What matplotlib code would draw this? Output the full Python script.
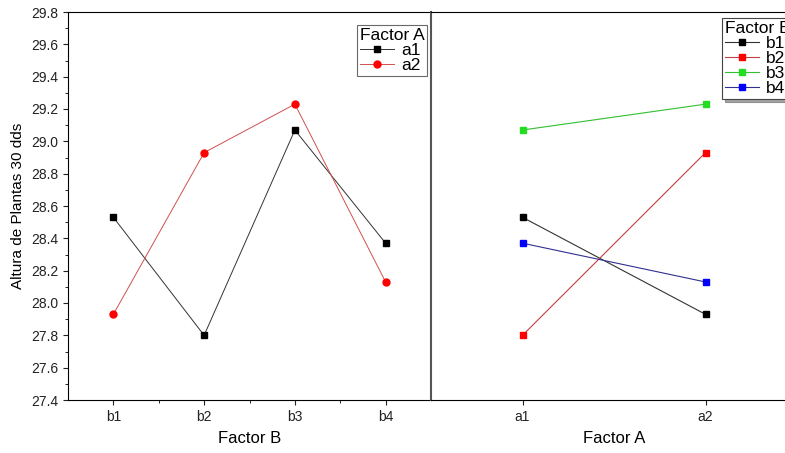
import matplotlib
matplotlib.use("Agg")
from matplotlib import pyplot as plt
from matplotlib.ticker import MultipleLocator, FixedLocator

plt.rcParams['font.family'] = ['Liberation Sans', 'DejaVu Sans']

# data
factor_b = ['b1', 'b2', 'b3', 'b4']
factor_a = ['a1', 'a2']
a1_vals = [28.53, 27.80, 29.07, 28.37]
a2_vals = [27.93, 28.93, 29.23, 28.13]
b1_vals = [28.53, 27.93]
b2_vals = [27.80, 28.93]
b3_vals = [29.07, 29.23]
b4_vals = [28.37, 28.13]

W, H = 785, 453
fig = plt.figure(figsize=(W / 100, H / 100), dpi=100)
top = 1 - 12 / H
bot = 1 - 400 / H
axL = fig.add_axes([68 / W, bot, (431 - 68) / W, top - bot])
axR = fig.add_axes([431 / W, bot, (797 - 431) / W, top - bot])

xb = range(1, len(factor_b) + 1)
axL.plot(xb, a1_vals, color='#333333', lw=0.7, marker='s', ms=4.5,
         mfc='black', mec='black', label='a1')
axL.plot(xb, a2_vals, color='#d05050', lw=0.7, marker='o', ms=5,
         mfc='red', mec='red', label='a2')

xa = range(1, len(factor_a) + 1)
axR.plot(xa, b1_vals, color='#333333', lw=0.8, marker='s', ms=4.5,
         mfc='black', mec='black', label='b1')
axR.plot(xa, b2_vals, color='#c04040', lw=0.8, marker='s', ms=4.5,
         mfc='red', mec='red', label='b2')
axR.plot(xa, b3_vals, color='#30c030', lw=0.8, marker='s', ms=4.5,
         mfc='#22dd22', mec='#22dd22', label='b3')
axR.plot(xa, b4_vals, color='#303090', lw=0.8, marker='s', ms=4.5,
         mfc='blue', mec='blue', label='b4')

for ax in (axL, axR):
    ax.set_ylim(27.4, 29.8)
    ax.tick_params(direction='out', labelsize=10, colors='#222222')
    ax.tick_params(which='minor', direction='out', length=2)

axL.set_xlim(0.5, 4.5)
axL.set_xticks(list(xb))
axL.set_xticklabels(factor_b)
axL.xaxis.set_minor_locator(FixedLocator([1.5, 2.5, 3.5]))
axL.yaxis.set_major_locator(MultipleLocator(0.2))
axL.yaxis.set_minor_locator(MultipleLocator(0.1))
axL.set_yticks(axL.get_yticks())
axL.set_yticklabels(['%.1f' % v for v in axL.get_yticks()])
axL.set_ylim(27.4, 29.8)
axL.spines['right'].set_visible(False)
axL.set_xlabel('Factor B', fontsize=12, labelpad=5)
axL.set_ylabel('Altura de Plantas 30 dds', fontsize=11, labelpad=4)

axR.set_xlim(0.5, 2.5)
axR.set_xticks(list(xa))
axR.set_xticklabels(factor_a)
axR.tick_params(axis='y', left=False, labelleft=False, which='both')
axR.spines['left'].set_color('#555555')
axR.spines['left'].set_linewidth(1.5)
axR.set_xlabel('Factor A', fontsize=12, labelpad=5)

legA = axL.legend(title='Factor A', loc='upper left',
                  bbox_to_anchor=((357 - 68) / (431 - 68), 1 - 13 / 388),
                  fontsize=12.5, title_fontsize=12.5, frameon=True,
                  fancybox=False, edgecolor='#444444', borderpad=0.15,
                  handlelength=2.0, handletextpad=0.4, labelspacing=0.0,
                  borderaxespad=0)
legA._legend_box.align = 'left'
legA.get_frame().set_linewidth(0.8)

legB = axR.legend(title='Factor B', loc='upper left',
                  bbox_to_anchor=((722 - 431) / (797 - 431), 1 - 6 / 388),
                  fontsize=12.5, title_fontsize=12.5, frameon=True,
                  fancybox=False, shadow=True, edgecolor='#444444',
                  borderpad=0.15, handlelength=2.0, handletextpad=0.4,
                  labelspacing=0.0, borderaxespad=0)
legB._legend_box.align = 'left'
legB.get_frame().set_linewidth(0.8)

fig.savefig('out.png', dpi=100)
